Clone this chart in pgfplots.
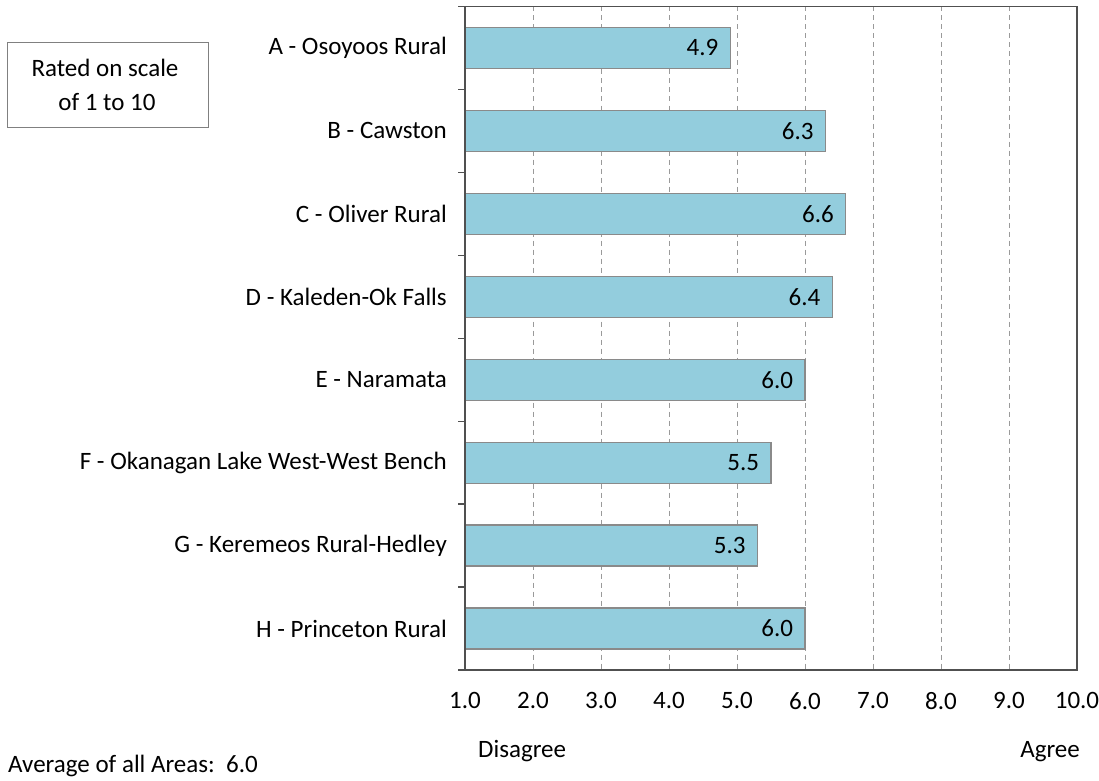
\documentclass[border=0pt]{standalone}
\usepackage{pgfplots}
\pgfplotsset{compat=1.18}
\usepackage{fontspec}
\setmainfont{Carlito}
\definecolor{barfill}{HTML}{93CDDD}
\definecolor{baredge}{HTML}{8A8A8A}
\definecolor{axisc}{HTML}{505050}
\definecolor{gridc}{HTML}{9A9A9A}
\begin{document}
\begin{tikzpicture}[x=1bp,y=1bp,font=\fontsize{25bp}{30bp}\selectfont]
\path[use as bounding box] (0,0) rectangle (1099,781);
\begin{axis}[
  at={(465bp,111bp)}, anchor=south west,
  scale only axis, width=612bp, height=663.5bp,
  xbar, bar width=41bp,
  clip mode=individual,
  xmin=1, xmax=10, ymin=-0.5, ymax=7.5, y dir=reverse,
  xtick={1,...,10},
  xticklabels={1.0,2.0,3.0,4.0,5.0,6.0,7.0,8.0,9.0,10.0},
  xticklabel style={yshift=-19bp},
  ytick={0,...,7},
  yticklabels={A - Osoyoos Rural,B - Cawston,C - Oliver Rural,D - Kaleden-Ok Falls,E - Naramata,F - Okanagan Lake West-West Bench,G - Keremeos Rural-Hedley,H - Princeton Rural},
  yticklabel style={xshift=-14.7bp},
  ytick pos=left, xtick pos=bottom,
  major tick length=0pt, minor tick length=7bp,
  minor ytick={-0.5,0.5,...,7.5}, tick align=outside,
  xmajorgrids,
  major x grid style={gridc, dash pattern=on 5bp off 4bp, line width=1bp},
  axis line style={axisc, line width=1.3bp},
  tick style={axisc, line width=1.3bp},
  /pgf/number format/assume math mode=true,
  point meta=x,
  nodes near coords={\pgfmathprintnumber[fixed,fixed zerofill,precision=1]{\pgfplotspointmeta}},
]
\addplot[fill=barfill, draw=baredge, line width=1.2bp,
  every node near coord/.append style={anchor=east, xshift=-8bp, text=black}]
  coordinates {(4.9,0) (6.3,1) (6.6,2) (6.4,3) (6.0,4) (5.5,5) (5.3,6) (6.0,7)};
\draw[axisc, line width=1.3bp] (rel axis cs:0,0) -- (rel axis cs:0,1);
\end{axis}
\node[anchor=base west, inner sep=0] at (8,8) {Average of all Areas:\ \ 6.0};
\node[anchor=base west, inner sep=0] at (478,23) {Disagree};
\node[anchor=base east, inner sep=0] at (1080,23) {Agree};
\draw[gray, line width=1bp] (7,653) rectangle (208,738);
\node[anchor=base, inner sep=0] at (105,704) {Rated on scale};
\node[anchor=base, inner sep=0] at (107,670) {of 1 to 10};
\end{tikzpicture}
\end{document}
